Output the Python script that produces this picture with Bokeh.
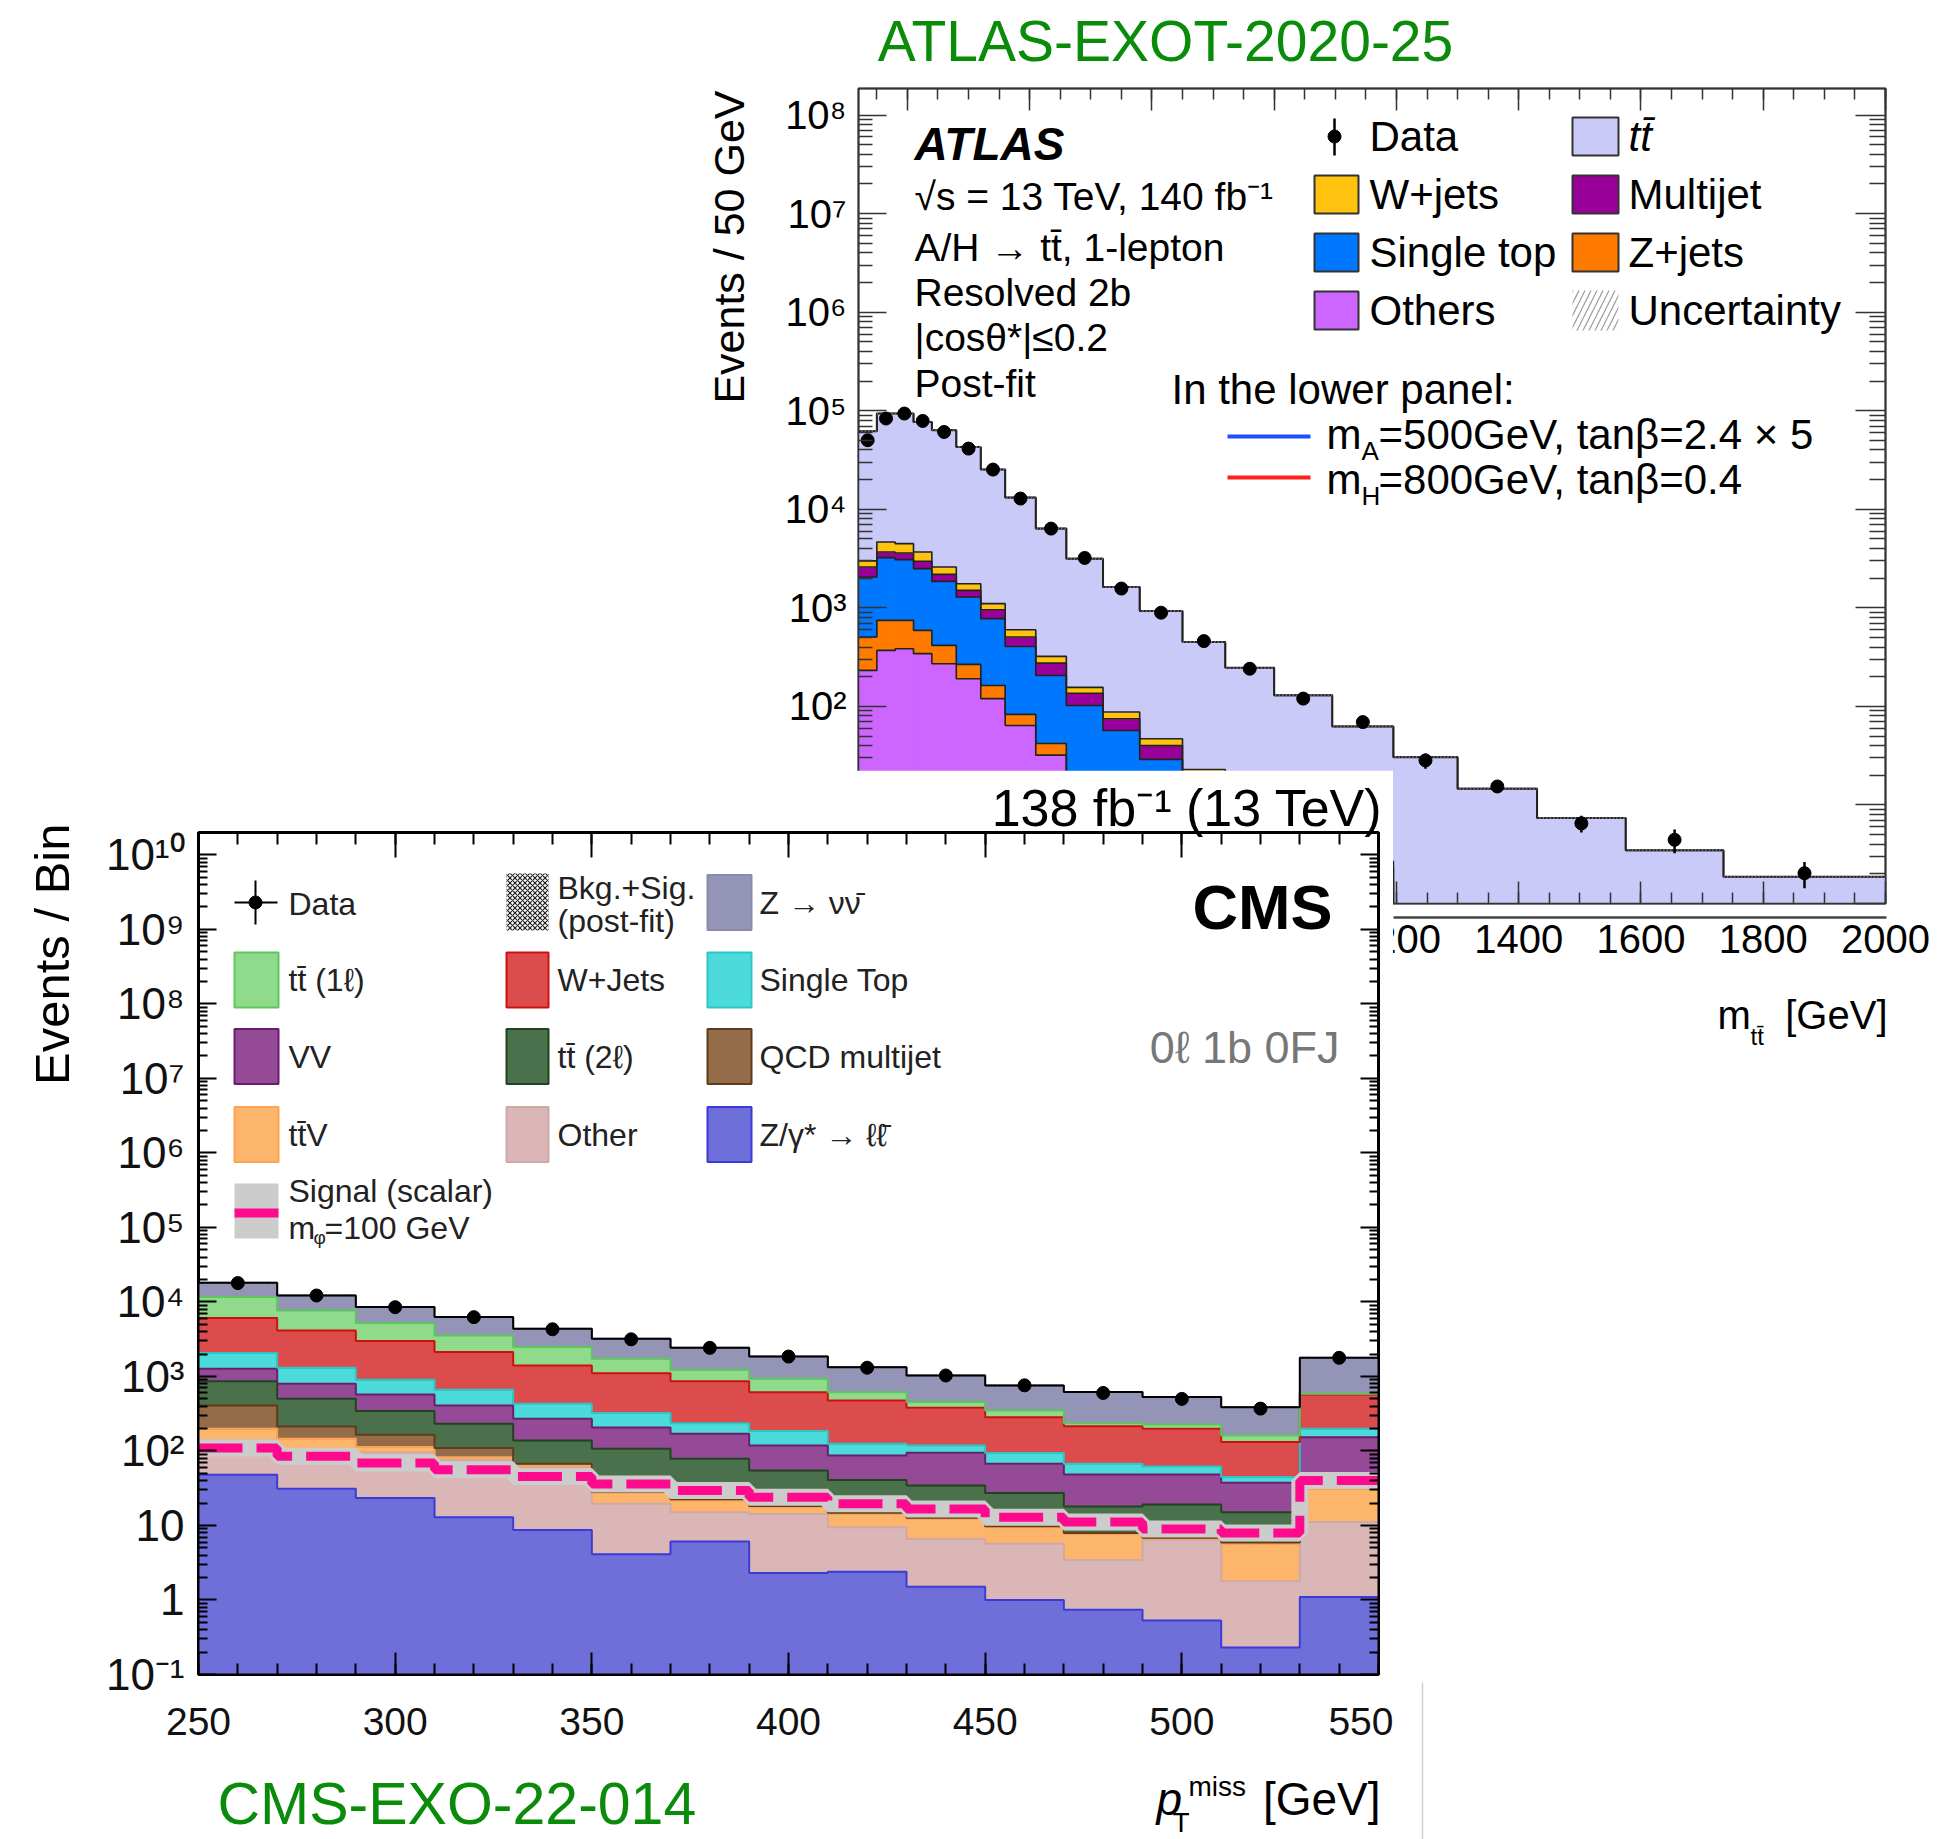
import math
from bokeh.plotting import figure
from bokeh.models import Range1d, FixedTicker, LinearAxis, LogAxis, Label, CustomJSTickFormatter
from bokeh.layouts import column
from bokeh.embed import file_html
from bokeh.resources import INLINE

FONT = "Liberation Sans"
GREEN = "#0a8c0a"

# ======================= ATLAS-EXOT-2020-25 (m_tt, 1-lepton resolved 2b) =======================
atlas_edges = [320, 350, 380, 410, 440, 480, 520, 560, 610, 660, 720, 780,
               850, 920, 1000, 1095, 1195, 1300, 1430, 1575, 1735, 2000]
atlas_others = [232, 370, 385, 343, 271, 191, 120, 64, 32, 15, 7, 3,
                1.4, 0.7, 0.35, 0.15, 0.06, 0.03, 0.015, 0.008, 0.004]
atlas_zjets = [274, 377, 362, 248, 145, 76, 43, 19, 10, 5, 2, 1,
               0.5, 0.3, 0.15, 0.08, 0.04, 0.02, 0.01, 0.005, 0.003]
atlas_single_top = [1551, 2483, 2337, 1909, 1442, 1022, 614, 323, 164, 82, 48, 25,
                    13, 6.5, 3, 1.5, 0.4, 0.2, 0.1, 0.05, 0.03]
atlas_multijet = [543, 460, 521, 466, 330, 217, 181, 100, 69, 34, 18, 11,
                  5, 2.5, 1.2, 0.6, 0.2, 0.1, 0.05, 0.03, 0.02]
atlas_wjets = [400, 970, 875, 724, 412, 253, 145, 94, 47, 20, 12.6, 7,
               3, 1.5, 0.7, 0.35, 0.15, 0.08, 0.04, 0.02, 0.01]
atlas_ttbar = [59000, 89000, 89200, 73200, 60800, 41100, 24200, 12550, 6050, 3000, 1540, 880,
               427, 235, 124, 60, 29.7, 14.2, 7.15, 3.35, 1.8]
atlas_data = [50200, 83400, 93700, 78800, 60900, 41300, 25300, 12850, 6370, 3210, 1570, 893,
              460, 241, 120, 69.3, 28.3, 15.4, 6.5, 4.43, 2.03]
atlas_data_err = [220, 290, 300, 280, 250, 200, 160, 115, 80, 57, 40, 30,
                  21, 16, 11, 8, 5, 2.2, 1.25, 1.2, 0.6]
atlas_ytick_vals = [1.0, 10.0, 1e2, 1e3, 1e4, 1e5, 1e6, 1e7, 1e8]
atlas_ytick_labels = ["", "", "10²", "10³", "10⁴", "10⁵", "10⁶", "10⁷", "10⁸"]
atlas_xtick_vals = [400, 600, 800, 1000, 1200, 1400, 1600, 1800, 2000]
atlas_xtick_labels = ["", "", "", "", "1200", "1400", "1600", "1800", "2000"]

# ======================= CMS-EXO-22-014 (pTmiss, 0l 1b 0FJ) =======================
cms_edges = [250, 270, 290, 310, 330, 350, 370, 390, 410, 430, 450, 470, 490, 510, 530, 550]
cms_data = [17900, 12200, 8500, 6250, 4300, 3150, 2420, 1850, 1310, 1030, 760, 600, 500, 370, 1780]
cms_zll = [48, 31, 23.3, 12.9, 8.7, 4.1, 6.1, 2.3, 2.4, 1.5, 1.0, 0.74, 0.53, 0.23, 1.1]
cms_other = [92, 74, 72.7, 63, 51, 15.4, 9.0, 12.0, 7.1, 5.1, 4.7, 2.7, 5.9, 1.56, 10.0]
cms_ttv = [58, 41, 16.6, 6.6, 4.0, 7.7, 6.6, 3.3, 4.8, 5.7, 3.8, 4.3, 0.2, 3.9, 19.9]
cms_qcd = [210, 67, 53, 27, 3.4, 1.0, 0.8, 0.6, 0.5, 0.4, 0.3, 0.2, 0.2, 0.2, 1.0]
cms_tt2l = [457, 288, 177, 122, 71, 79, 56, 36.5, 26, 21.7, 17.4, 10.1, 12.3, 9.2, 8.0]
cms_vv = [403, 297, 230, 176, 132, 100, 91.5, 64, 46, 60, 40, 30.4, 29.3, 22.3, 113]
cms_single_top = [788, 509, 329, 254, 160, 116, 66, 66, 38, 24, 27, 18.9, 13.6, 7.2, 45]
cms_wjets = [4014, 2836, 2078, 1460, 976, 784, 629, 431, 351, 262, 190, 148, 136.5, 87, 374.5]
cms_tt1l = [5540, 3547, 2220, 1428, 1071, 617, 363, 315, 140, 72, 66, 21, 28.5, 30, 12]
cms_znn = [6500, 4530, 3330, 2705, 1886, 1478, 1197, 924, 718, 579, 407, 380, 301, 225.5, 1197]
cms_signal = [110, 85, 69, 56, 45.5, 36, 29.5, 24, 19.5, 16.7, 12.9, 11.1, 9.0, 7.9, 40]
cms_ytick_vals = [0.1, 1.0, 10.0, 1e2, 1e3, 1e4, 1e5, 1e6, 1e7, 1e8, 1e9, 1e10]
cms_ytick_labels = ["10⁻¹", "1", "10", "10²", "10³", "10⁴", "10⁵", "10⁶", "10⁷", "10⁸", "10⁹", "10¹⁰"]
cms_xtick_vals = [250, 300, 350, 400, 450, 500, 550]

# ======================= geometry (page pixels) =======================
PAGE_W, PAGE_H = 1942, 1839
BORDER_L = 298                    # common left border (column aligns plot frames)
A_LEFT = 560                      # ATLAS canvas left edge
A_FL, A_FT, A_FR, A_FB = 858, 88, 1885, 903
A_X = (320, 2000)
A_LOGY = (0.0, 8.27)
A_H = 1050
C_TOP = 770                       # CMS canvas top edge
C_FL, C_FT, C_FR, C_FB = 198, 832, 1378, 1674
C_X = (250, 550)
C_LOGY = (-1.0, 10.3)
C_RIGHT = 1393
OVC_RIGHT = 1440

EMPTY = CustomJSTickFormatter(code="return '';")


def lookup_fmt(vals, labs):
    return CustomJSTickFormatter(args=dict(vals=vals, labs=labs), code="""
        for (let i = 0; i < vals.length; i++) {
            if (Math.abs(tick - vals[i]) <= 1e-6 * Math.abs(vals[i])) { return labs[i]; }
        }
        return '';""")


def tick_axis(cls, ticks, minor, tin, min_in, lw, color, fmt, font_size="1px", standoff=0,
              label_color="black"):
    ax = cls(ticker=FixedTicker(ticks=ticks, minor_ticks=minor), formatter=fmt)
    ax.major_tick_in = tin
    ax.major_tick_out = 0
    ax.minor_tick_in = min_in
    ax.minor_tick_out = 0
    ax.major_tick_line_width = lw
    ax.minor_tick_line_width = lw
    ax.axis_line_width = lw
    ax.major_tick_line_color = color
    ax.minor_tick_line_color = color
    ax.axis_line_color = color
    ax.major_label_text_font = FONT
    ax.major_label_text_font_size = font_size
    ax.major_label_standoff = standoff
    ax.major_label_text_color = label_color
    return ax


def stacked(p, edges, layers, bottom0, line_width):
    left, right = edges[:-1], edges[1:]
    cum = [0.0] * (len(edges) - 1)
    tops = []
    for vals, fill, _ in layers:
        top = [c + v for c, v in zip(cum, vals)]
        bot = [max(c, bottom0) for c in cum]
        p.quad(left=left, right=right, bottom=bot, top=top, fill_color=fill,
               line_color=fill, line_width=1)
        tops.append(top)
        cum = top
    for top, (_, _, lc) in zip(tops, layers):
        p.step(x=edges, y=top + [top[-1]], mode="after", line_color=lc, line_width=line_width)
    return cum


# ======================= ATLAS figure =======================
pa = figure(frame_width=A_FR - A_FL, frame_height=A_FB - A_FT,
            x_range=Range1d(*A_X), y_range=Range1d(10 ** A_LOGY[0], 10 ** A_LOGY[1]),
            y_axis_type="log", x_axis_location=None, y_axis_location=None,
            output_backend="svg", toolbar_location=None, title=None,
            min_border_left=BORDER_L, min_border_right=PAGE_W - A_FR,
            min_border_top=A_FT, min_border_bottom=A_H - A_FB)
pa.background_fill_color = "white"
pa.border_fill_color = "white"
pa.outline_line_color = "#333333"
pa.outline_line_width = 2
pa.grid.visible = False
pa.margin = (0, 0, 0, A_FL - BORDER_L)

atlas_log_minor = [m * 10.0 ** k for k in range(0, 9) for m in range(2, 10)]
atlas_x_minor = list(range(350, 2001, 50))
pa.add_layout(tick_axis(LogAxis, atlas_ytick_vals, atlas_log_minor, 28, 14, 1.5, "#333333",
                        lookup_fmt(atlas_ytick_vals, atlas_ytick_labels), "40px", 12), "left")
pa.add_layout(tick_axis(LogAxis, atlas_ytick_vals, atlas_log_minor, 30, 16, 1.5, "#333333", EMPTY), "right")
pa.add_layout(tick_axis(LinearAxis, atlas_xtick_vals, atlas_x_minor, 22, 11, 1.5, "#333333", EMPTY), "above")
pa.add_layout(tick_axis(LinearAxis, atlas_xtick_vals, atlas_x_minor, 22, 11, 1.5, "#333333",
                        lookup_fmt(atlas_xtick_vals, atlas_xtick_labels), "40px", 21), "below")

atlas_layers = [
    (atlas_others, "#cc66ff", "#222222"),
    (atlas_zjets, "#ff7b00", "#222222"),
    (atlas_single_top, "#0077ff", "#222222"),
    (atlas_multijet, "#990099", "#222222"),
    (atlas_wjets, "#ffc20e", "#222222"),
    (atlas_ttbar, "#cacaf8", "#222222"),
]
atlas_total = stacked(pa, atlas_edges, atlas_layers, 1e-4, 1.6)
pa.step(x=atlas_edges, y=atlas_total + [atlas_total[-1]], mode="after", line_color="#222222", line_width=2)
pa.quad(left=atlas_edges[:-1], right=atlas_edges[1:], bottom=[t * 0.975 for t in atlas_total],
        top=[t * 1.025 for t in atlas_total], fill_color=None, line_color=None,
        hatch_pattern="right_diagonal_line", hatch_color="#888888", hatch_scale=7, hatch_weight=1)
a_centers = [(l + r) / 2 for l, r in zip(atlas_edges[:-1], atlas_edges[1:])]
pa.segment(x0=a_centers, y0=[d - e for d, e in zip(atlas_data, atlas_data_err)],
           x1=a_centers, y1=[d + e for d, e in zip(atlas_data, atlas_data_err)],
           line_color="black", line_width=2.5)
pa.scatter(x=a_centers, y=atlas_data, size=13, color="black")

# ======================= CMS figure =======================
pc = figure(frame_width=C_FR - C_FL, frame_height=C_FB - C_FT,
            x_range=Range1d(*C_X), y_range=Range1d(10 ** C_LOGY[0], 10 ** C_LOGY[1]),
            y_axis_type="log", x_axis_location=None, y_axis_location=None,
            output_backend="svg", toolbar_location=None, title=None,
            min_border_left=BORDER_L, min_border_right=C_RIGHT - C_FR,
            min_border_top=C_FT - C_TOP, min_border_bottom=PAGE_H - C_FB)
pc.background_fill_color = "white"
pc.border_fill_color = "white"
pc.outline_line_color = "black"
pc.outline_line_width = 3
pc.grid.visible = False
pc.margin = (C_TOP - A_H, 0, 0, C_FL - BORDER_L)

cms_log_minor = [m * 10.0 ** k for k in range(-1, 11) for m in range(2, 10)]
cms_x_minor = list(range(250, 551, 10))
pc.add_layout(tick_axis(LogAxis, cms_ytick_vals, cms_log_minor, 18, 9, 2, "black",
                        lookup_fmt(cms_ytick_vals, cms_ytick_labels), "44px", 14, "#111111"), "left")
pc.add_layout(tick_axis(LogAxis, cms_ytick_vals, cms_log_minor, 18, 9, 2, "black", EMPTY), "right")
pc.add_layout(tick_axis(LinearAxis, cms_xtick_vals, cms_x_minor, 25, 12, 2, "black", EMPTY), "above")
pc.add_layout(tick_axis(LinearAxis, cms_xtick_vals, cms_x_minor, 22, 11, 2, "black",
                        lookup_fmt(cms_xtick_vals, [str(v) for v in cms_xtick_vals]), "39px", 33,
                        "#111111"), "below")

CMS_COL = {"zll": ("#6f6fda", "#3a3ad8"), "other": ("#dab6b6", "#cfa8a8"),
           "ttv": ("#fdb46b", "#fba552"), "qcd": ("#946c4a", "#5e3c1c"),
           "tt2l": ("#4b704c", "#1f451f"), "vv": ("#944a96", "#6a1d6a"),
           "stop": ("#4cdada", "#2bc6c6"), "wjets": ("#dc4c4c", "#cc1010"),
           "tt1l": ("#90da8c", "#5cc85c"), "znn": ("#9494b7", "#8a8ab0")}
cms_layers = [
    (cms_zll,) + CMS_COL["zll"],
    (cms_other,) + CMS_COL["other"],
    (cms_ttv,) + CMS_COL["ttv"],
    (cms_qcd,) + CMS_COL["qcd"],
    (cms_tt2l,) + CMS_COL["tt2l"],
    (cms_vv,) + CMS_COL["vv"],
    (cms_single_top,) + CMS_COL["stop"],
    (cms_wjets,) + CMS_COL["wjets"],
    (cms_tt1l,) + CMS_COL["tt1l"],
    (cms_znn,) + CMS_COL["znn"],
]
cms_total = stacked(pc, cms_edges, cms_layers, 1e-4, 2)
pc.step(x=cms_edges, y=cms_signal + [cms_signal[-1]], mode="after", line_color="#cccccc", line_width=17)
pc.step(x=cms_edges, y=cms_signal + [cms_signal[-1]], mode="after", line_color="#ff0a8c",
        line_width=9, line_dash="44 14")
pc.quad(left=cms_edges[:-1], right=cms_edges[1:], bottom=[t * 0.975 for t in cms_total],
        top=[t * 1.025 for t in cms_total], fill_color=None, line_color=None,
        hatch_pattern="diagonal_cross", hatch_color="#222222", hatch_scale=5, hatch_weight=1)
pc.step(x=cms_edges, y=cms_total + [cms_total[-1]], mode="after", line_color="black", line_width=2)
c_centers = [(l + r) / 2 for l, r in zip(cms_edges[:-1], cms_edges[1:])]
pc.scatter(x=c_centers, y=cms_data, size=13, color="black")


# ======================= transparent annotation layers (page-pixel coordinates) =======================
def make_overlay(x0, x1, y0, y1):
    o = figure(frame_width=x1 - x0, frame_height=y1 - y0, x_range=Range1d(x0, x1),
               y_range=Range1d(y1, y0), x_axis_location=None, y_axis_location=None,
               output_backend="svg", toolbar_location=None, title=None,
               min_border_left=BORDER_L, min_border_right=0, min_border_top=0, min_border_bottom=0)
    o.background_fill_alpha = 0
    o.border_fill_alpha = 0
    o.outline_line_color = None
    o.grid.visible = False
    return o


ova = make_overlay(A_LEFT, PAGE_W, 0, A_H)
ova.margin = (-PAGE_H, 0, 0, A_LEFT - BORDER_L)
ovc = make_overlay(0, OVC_RIGHT, C_TOP, PAGE_H)
ovc.margin = (C_TOP - A_H, 0, 0, -BORDER_L)


def txt(o, x, y, text, size, color="black", style="normal", align="left", angle=0.0):
    o.add_layout(Label(x=x, y=y, text=text, text_font=FONT, text_font_size=f"{size}px",
                       text_color=color, text_font_style=style, text_align=align,
                       text_baseline="middle", angle=angle))


def box(o, x, y, w, h, fill, line=None, lw=1.5, hatch=None, hatch_color="black", hatch_scale=6.0):
    kw = {}
    if hatch:
        kw = dict(hatch_pattern=hatch, hatch_color=hatch_color, hatch_scale=hatch_scale, hatch_weight=1.2)
    o.rect(x=[x], y=[y], width=w, height=h, fill_color=fill, line_color=line, line_width=lw, **kw)


def seg(o, x0, y0, x1, y1, color, width):
    o.segment(x0=[x0], y0=[y0], x1=[x1], y1=[y1], line_color=color, line_width=width)


# ---- ATLAS annotations ----
txt(ova, 1165, 40, "ATLAS-EXOT-2020-25", 57, color=GREEN, align="center")
txt(ova, 728, 90, "Events / 50 GeV", 43, align="right", angle=math.pi / 2)
txt(ova, 914, 143, "ATLAS", 46, style="bold italic")
txt(ova, 914, 196, "√s = 13 TeV, 140 fb⁻¹", 39)
txt(ova, 914, 247, "A/H → tt̄, 1-lepton", 39)
txt(ova, 914, 292, "Resolved 2b", 39)
txt(ova, 914, 337, "|cosθ*|≤0.2", 39)
txt(ova, 914, 383, "Post-fit", 39)

a_rows = [136, 194, 252, 310]
seg(ova, 1334, 118, 1334, 155, "black", 2.5)
ova.scatter(x=[1334], y=[136], size=13, color="black")
txt(ova, 1369, a_rows[0], "Data", 42)
for row, (name, col) in zip(a_rows[1:], [("W+jets", "#ffc20e"), ("Single top", "#0077ff"),
                                          ("Others", "#cc66ff")]):
    box(ova, 1336, row, 44, 38, col, "#333333", 2)
    txt(ova, 1369, row, name, 42)
for row, (name, col) in zip(a_rows[:3], [("tt̄", "#cacaf8"), ("Multijet", "#990099"),
                                         ("Z+jets", "#ff7b00")]):
    box(ova, 1595, row, 46, 38, col, "#333333", 2)
    txt(ova, 1628, row, name, 42, style="italic" if name == "tt̄" else "normal")
box(ova, 1595, a_rows[3], 46, 40, None, None, 0, hatch="right_diagonal_line",
    hatch_color="#999999", hatch_scale=12)
txt(ova, 1628, a_rows[3], "Uncertainty", 42)

txt(ova, 1171, 389, "In the lower panel:", 42)
seg(ova, 1227, 436, 1310, 436, "#1f4fff", 4)
txt(ova, 1326, 434, "m", 42)
txt(ova, 1361, 450, "A", 26)
txt(ova, 1378, 434, "=500GeV, tanβ=2.4 × 5", 42)
seg(ova, 1227, 477, 1310, 477, "#ff2020", 4)
txt(ova, 1326, 479, "m", 42)
txt(ova, 1361, 495, "H", 26)
txt(ova, 1378, 479, "=800GeV, tanβ=0.4", 42)

seg(ova, C_RIGHT, 917, A_FR + 1, 917, "#444444", 2.5)        # top edge of the cropped lower panel
txt(ova, 1717, 1014, "m", 40)
txt(ova, 1750, 1036, "tt̄", 24)
txt(ova, 1887, 1014, "[GeV]", 40, align="right")

# ---- CMS annotations ----
txt(ovc, 1382, 807, "138 fb⁻¹ (13 TeV)", 52, align="right")
txt(ovc, 1332, 906, "CMS", 63, style="bold", align="right")
txt(ovc, 1339, 1047, "0ℓ 1b 0FJ", 45, color="#777777", align="right")
txt(ovc, 51, 823, "Events / Bin", 49, align="right", angle=math.pi / 2)
txt(ovc, 1156, 1798, "p", 46, style="italic")
txt(ovc, 1188, 1786, "miss", 28)
txt(ovc, 1172, 1822, "T", 28)
txt(ovc, 1380, 1798, "[GeV]", 46, align="right")
txt(ovc, 217, 1803, "CMS-EXO-22-014", 59, color=GREEN)
seg(ovc, 1422, 1682, 1422, PAGE_H, "#d0d0d0", 1.5)

LEG = "#222222"
c_rows = [902, 979.5, 1056, 1134]
seg(ovc, 234, 902, 277, 902, "black", 2)
seg(ovc, 255, 880, 255, 924, "black", 2)
ovc.scatter(x=[255], y=[902], size=13, color="black")
txt(ovc, 288, 903, "Data", 32, color=LEG)
for row, (name, key) in zip(c_rows[1:], [("tt̄ (1ℓ)", "tt1l"), ("VV", "vv"), ("tt̄V", "ttv")]):
    box(ovc, 256, row, 44, 55, CMS_COL[key][0], CMS_COL[key][1], 2)
    txt(ovc, 288, row, name, 32, color=LEG)
box(ovc, 256, 1210.5, 44, 55, "#cccccc", None, 0)
box(ovc, 256, 1212.5, 44, 9, "#ff0a8c", None, 0)
txt(ovc, 288, 1190, "Signal (scalar)", 32, color=LEG)
txt(ovc, 288, 1227, "m", 32, color=LEG)
txt(ovc, 313, 1237, "φ", 19, color=LEG)
txt(ovc, 324, 1227, "=100 GeV", 32, color=LEG)

box(ovc, 527, 901.5, 42, 57, "white", None, 0, hatch="diagonal_cross", hatch_color="#222222", hatch_scale=5)
txt(ovc, 557, 887, "Bkg.+Sig.", 32, color=LEG)
txt(ovc, 557, 920, "(post-fit)", 32, color=LEG)
for row, (name, key) in zip(c_rows[1:], [("W+Jets", "wjets"), ("tt̄ (2ℓ)", "tt2l"), ("Other", "other")]):
    box(ovc, 527, row, 42, 55, CMS_COL[key][0], CMS_COL[key][1], 2)
    txt(ovc, 557, row, name, 32, color=LEG)
for row, (name, key) in zip(c_rows, [("Z → νν̄", "znn"), ("Single Top", "stop"),
                                     ("QCD multijet", "qcd"), ("Z/γ* → ℓℓ̄", "zll")]):
    box(ovc, 729, row, 44, 55, CMS_COL[key][0], CMS_COL[key][1], 2)
    txt(ovc, 759, row, name, 32, color=LEG)

layout = column(pa, pc, ova, ovc)
open("out.html", "w").write(file_html(layout, INLINE, title="ATLAS-EXOT-2020-25 / CMS-EXO-22-014"))
